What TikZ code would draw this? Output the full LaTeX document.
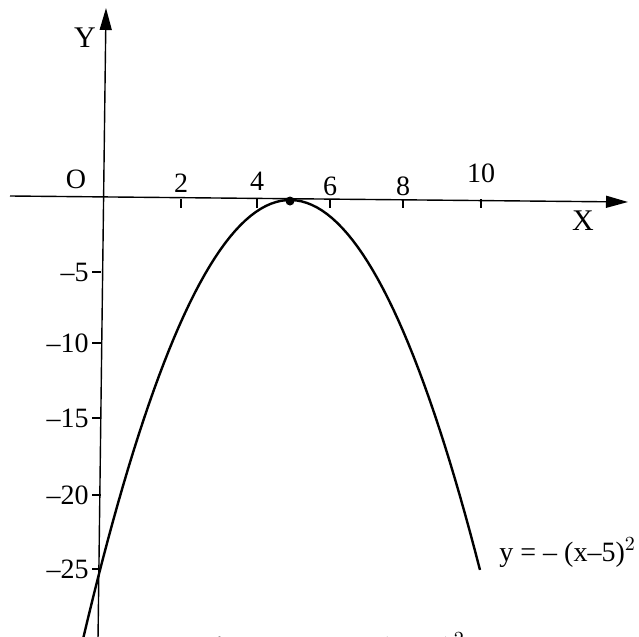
\documentclass[tikz,border=0pt]{standalone}
\usepackage{fontspec}
\setmainfont{Liberation Serif}
\usetikzlibrary{arrows.meta}
\begin{document}
\begin{tikzpicture}[x=0.5pt,y=-0.5pt,
  axis/.style={line width=0.7pt,-{Triangle[length=11pt,width=6pt]}},
  tick/.style={line width=0.6pt},
  lab/.style={font=\fontsize{14}{16}\selectfont,inner sep=0pt},
  curve/.style={line width=1.2pt}]
\useasboundingbox (0,0) rectangle (639,637);
\clip (0,0) rectangle (639,637);
% axes
\coordinate (xl) at (10,196);
\coordinate (xr) at (628,202);
\coordinate (yb) at (98,640);
\coordinate (yt) at (106,8);
\draw[axis] (xl) -- (xr);
\draw[axis] (yb) -- (yt);
% x ticks
\foreach \px/\lx/\ly/\t in {181/181/183/2, 257/257/181/4, 330/330/186/6, 403/403/186/8, 481/481/173/10}{
  \draw[tick] (\px,199) -- (\px,208);
  \node[lab] (xt\t) at (\lx,\ly) {\t};
}
% y ticks
\foreach \py/\t in {272/5, 343/10, 418/15, 495/20, 569/25}{
  \draw[tick] (92,\py) -- (101,\py);
  \node[lab,anchor=east] (yt\t) at (89,\py) {--\t};
}
\node[lab] (O) at (76,179) {O};
\node[lab,font=\fontsize{15}{17}\selectfont] (Y) at (85,38) {Y};
\node[lab,font=\fontsize{15}{17}\selectfont] (X) at (583,221) {X};
% curve
\draw[curve,domain=-5.6:5,samples=80,variable=\t] plot ({290+38*\t},{200+14.8*\t*\t});
\fill (290,201) circle (4.5);
\node[lab,anchor=base west] (eq) at (499,561) {y = -- (x--5)$^{2}$};
\node[lab,anchor=base west,font=\bfseries\fontsize{14}{16}\selectfont] (cap) at (198,656) {Fig. 6.4 : y = -- (x -- 5)$^{2}$};
\end{tikzpicture}
\end{document}
